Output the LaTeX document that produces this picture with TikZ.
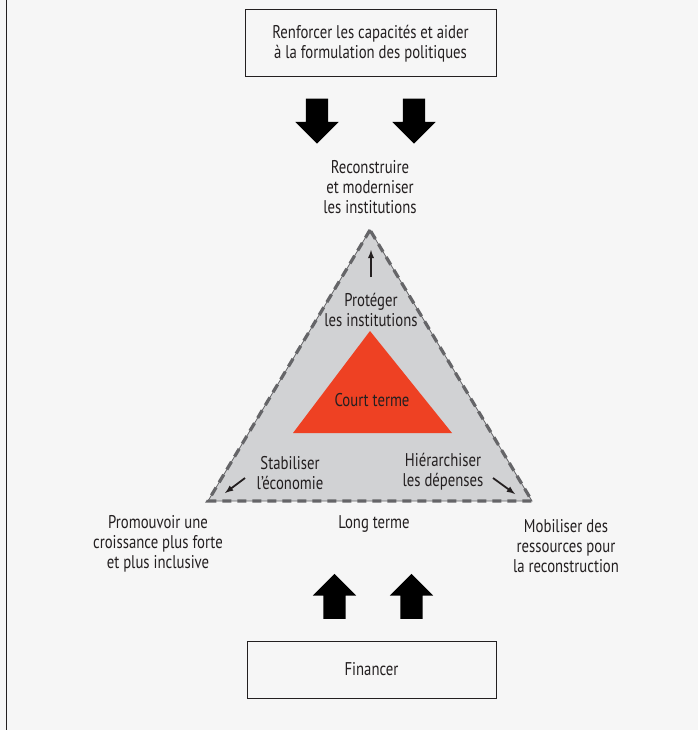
\documentclass[tikz,border=0pt]{standalone}
\usepackage{fontspec}
\setmainfont[FakeStretch=0.8]{PT Sans}
\usetikzlibrary{shapes.arrows}
\definecolor{ink}{HTML}{231F20}
\definecolor{paper}{HTML}{F6F6F6}
\definecolor{trifill}{HTML}{D1D2D4}
\definecolor{dashgray}{HTML}{656568}
\definecolor{shortred}{HTML}{EE4123}
\tikzset{
  lbl/.style      = {align=center, text=ink, inner sep=0pt,
                     font=\fontsize{18.5}{20}\selectfont},
  box/.style      = {lbl, draw=ink, line width=1bp},
  bigarrow/.style = {single arrow, fill=black, draw=none,
                     inner xsep=0pt, inner ysep=11bp,
                     minimum height=45bp,
                     single arrow head extend=10.5bp,
                     single arrow head indent=0pt},
  smallarrow/.style = {-latex, line width=1.8bp, draw=ink}
}

\begin{document}
\begin{tikzpicture}[x=1bp, y=-1bp]
  \useasboundingbox (0,0) rectangle (698,730);
  \fill[paper] (0,0) rectangle (698,730);
  \draw[ink, line width=1.5bp] (6.5,0) -- (6.5,730);

  % boxes
  \node[box, minimum width=251bp, minimum height=67bp] (renf) at (370.5,43.5)
    {Renforcer les capacités et aider\\à la formulation des politiques};
  \node[box, minimum width=249bp, minimum height=57bp] (fin) at (371.5,669.5)
    {Financer};

  % block arrows
  \node[bigarrow, rotate=-90] (down1) at (317,115.5) {};
  \node[bigarrow, rotate=-90] (down2) at (414,115.5) {};
  \node[bigarrow, rotate=90]  (up1)   at (334.5,602) {};
  \node[bigarrow, rotate=90]  (up2)   at (411.5,602) {};

  % triangle
  \coordinate (T) at (370,230);
  \coordinate (L) at (208,501);
  \coordinate (R) at (532,501);
  \fill[trifill] (T) -- (L) -- (R) -- cycle;
  \draw[dashgray, line width=0.8bp] (T) -- (L) -- (R) -- cycle;
  \draw[dashgray, line width=3.2bp, dash pattern=on 9bp off 6bp]
    (T) -- (L) -- (R) -- cycle;
  \fill[shortred] (370,331) -- (293,433) -- (452,433) -- cycle;

  % labels
  \node[lbl] (recon) at (370,187) {Reconstruire\\et moderniser\\les institutions};
  \node[lbl] (prot)  at (371,310) {Protéger\\les institutions};
  \node[lbl] (court) at (372,400) {Court terme};
  \node[lbl] (stab)  at (290,473) {Stabiliser\\l’économie};
  \node[lbl] (hier)  at (443,472) {Hiérarchiser\\les dépenses};
  \node[lbl] (promo) at (158,544) {Promouvoir une\\croissance plus forte\\et plus inclusive};
  \node[lbl] (long)  at (374,524) {Long terme};
  \node[lbl] (mobil) at (566,546) {Mobiliser des\\ressources pour\\la reconstruction};

  % small arrows
  \coordinate (protA) at (371,277);
  \coordinate (protB) at (371,250);
  \coordinate (stabA) at (245,478);
  \coordinate (stabB) at (225,493);
  \coordinate (hierA) at (493,478);
  \coordinate (hierB) at (515,494);
  \draw[smallarrow] (protA) -- (protB);
  \draw[smallarrow] (stabA) -- (stabB);
  \draw[smallarrow] (hierA) -- (hierB);
\end{tikzpicture}
\end{document}
